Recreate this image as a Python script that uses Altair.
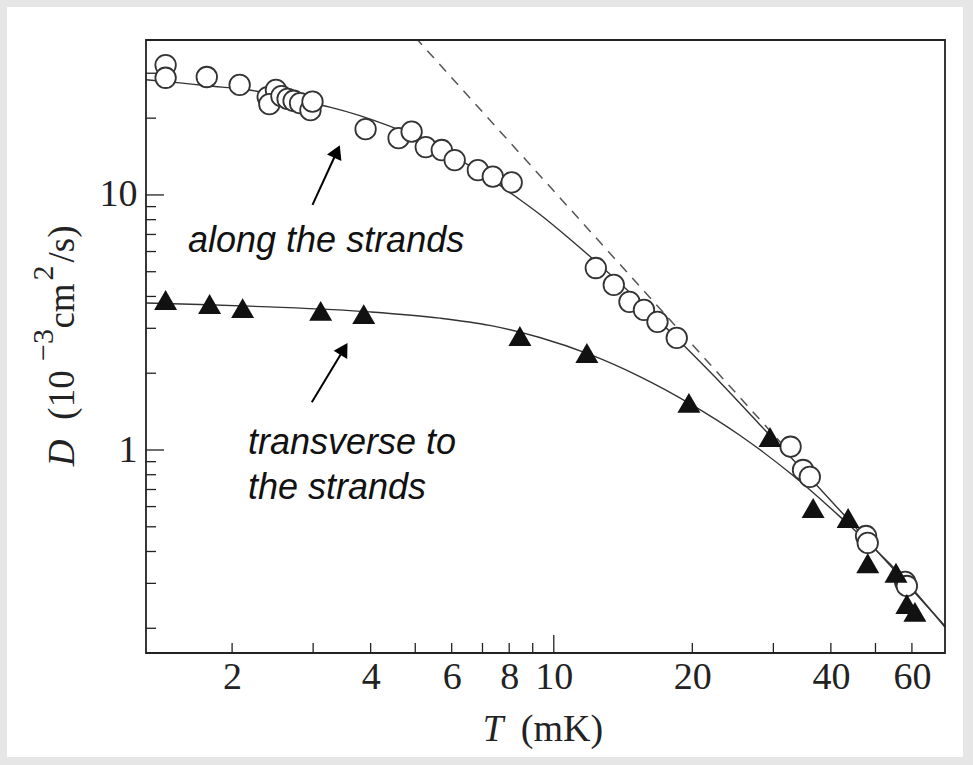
import altair as alt
import pandas as pd

# ---------------- data ----------------
# open circles: diffusion along the strands
circle_T = [1.434, 1.434, 1.762, 2.077, 2.39, 2.49, 2.41, 2.56, 2.64, 2.72, 2.81, 2.96, 2.99,
            3.90, 4.60, 4.91, 5.27, 5.71, 6.09, 6.84, 7.37, 8.10,
            12.34, 13.5, 14.6, 15.7, 16.8, 18.5,
            32.7, 34.8, 36.0, 47.7, 48.1, 58.0, 58.5]
circle_D = [32.3, 28.8, 29.0, 27.0, 24.2, 25.8, 22.7, 24.4, 23.8, 23.4, 22.9, 21.5, 23.2,
            18.1, 16.7, 17.7, 15.4, 15.0, 13.7, 12.5, 11.8, 11.2,
            5.17, 4.44, 3.81, 3.54, 3.18, 2.75,
            1.03, 0.835, 0.784, 0.460, 0.432, 0.304, 0.293]

# filled triangles: diffusion transverse to the strands
tri_T = [1.434, 1.787, 2.108, 3.115, 3.864, 8.44, 11.8, 19.66, 29.5, 36.6, 43.6, 48.1, 55.4, 58.5, 60.9]
tri_D = [3.875, 3.738, 3.60, 3.51, 3.41, 2.80, 2.40, 1.53, 1.124, 0.592, 0.541, 0.360, 0.330, 0.249, 0.232]

# solid fitted curves
along_T = [1.30, 1.54, 1.76, 2.18, 2.80, 3.26, 4.40, 5.65, 6.57, 7.37, 8.3, 9.32, 10.8, 12.6,
           15.4, 18.8, 23.0, 28.0, 34.3, 44.0, 56.5, 70.8]
along_D = [28.3, 27.5, 26.8, 25.8, 23.4, 22.1, 18.6, 15.2, 13.0, 11.4, 9.8, 8.4, 6.75, 5.3,
           3.8, 2.66, 1.84, 1.26, 0.855, 0.525, 0.32, 0.204]

trans_T = [1.30, 1.70, 2.41, 3.98, 5.65, 7.26, 9.32, 11.97, 15.38, 19.75, 25.4, 32.6,
           41.85, 53.8, 70.8]
trans_D = [3.77, 3.72, 3.64, 3.48, 3.29, 3.08, 2.76, 2.37, 1.94, 1.52, 1.14, 0.812,
           0.548, 0.357, 0.202]

# dashed high-temperature asymptote (end points)
asym_T = [5.0, 33.0]
asym_D = [41.5, 0.95]

# arrows (tail -> head) in data coordinates
arrow_tail_T = [2.99, 2.98]
arrow_tail_D = [9.14, 1.54]
arrow_head_T = [3.38, 3.50]
arrow_head_D = [14.8, 2.49]

# axis ticks / labels
x_label_values = [2, 4, 6, 8, 10, 20, 40, 60]
y_label_values = [1, 10]
x_minor_ticks = [2, 3, 4, 5, 6, 7, 8, 9, 20, 30, 40, 50, 60]
x_major_ticks = [10]
y_minor_ticks = [0.2, 0.3, 0.4, 0.5, 0.6, 0.7, 0.8, 0.9, 2, 3, 4, 5, 6, 7, 8, 9, 20, 30]
y_major_ticks = [1, 10]

# ---------------- chart ----------------
W, H = 799, 613
INK = "#222222"

xscale = alt.Scale(type="log", domain=[1.3, 70.8], nice=False)
yscale = alt.Scale(type="log", domain=[0.16, 40.5], nice=False)

x_axis = alt.Axis(values=x_label_values, title=None, ticks=False, tickSize=0, domain=False, grid=False,
                  labelFont="Liberation Serif", labelFontSize=38, labelColor=INK, labelPadding=5,
                  labelOverlap=False, labelFlush=False, format="~g", zindex=1)
y_axis = alt.Axis(values=y_label_values, title=None, ticks=False, tickSize=0, domain=False, grid=False,
                  labelFont="Liberation Serif", labelFontSize=38, labelColor=INK, labelPadding=9,
                  labelOverlap=False, labelFlush=False, format="~g", zindex=1)

one = pd.DataFrame({"a": [0]})

circles = pd.DataFrame({"T": circle_T, "D": circle_D})
tris = pd.DataFrame({"T": tri_T, "D": tri_D})
along = pd.DataFrame({"T": along_T, "D": along_D})
trans = pd.DataFrame({"T": trans_T, "D": trans_D})
asym = pd.DataFrame({"T": asym_T, "D": asym_D})
arrows = pd.DataFrame({"T": arrow_tail_T, "D": arrow_tail_D, "T1": arrow_head_T, "D1": arrow_head_D})


def X(f="T"):
    return alt.X(f"{f}:Q", scale=xscale, axis=x_axis)


def Y(f="D"):
    return alt.Y(f"{f}:Q", scale=yscale, axis=y_axis)


panel = alt.Chart(one).mark_rect(fill="white").encode(
    x=alt.value(-139), x2=alt.value(817), y=alt.value(-33), y2=alt.value(717))

frame = alt.Chart(one).mark_rect(fillOpacity=0, stroke=INK, strokeWidth=1.8).encode(
    x=alt.value(0), x2=alt.value(W), y=alt.value(0), y2=alt.value(H))

xt_minor = alt.Chart(pd.DataFrame({"T": x_minor_ticks})).mark_rule(color=INK, strokeWidth=1.3).encode(
    x=X(), y=alt.value(H), y2=alt.value(H - 10))
xt_major = alt.Chart(pd.DataFrame({"T": x_major_ticks})).mark_rule(color=INK, strokeWidth=1.3).encode(
    x=X(), y=alt.value(H), y2=alt.value(H - 18))
yt_minor = alt.Chart(pd.DataFrame({"D": y_minor_ticks})).mark_rule(color=INK, strokeWidth=1.3).encode(
    y=Y(), x=alt.value(0), x2=alt.value(10))
yt_major = alt.Chart(pd.DataFrame({"D": y_major_ticks})).mark_rule(color=INK, strokeWidth=1.3).encode(
    y=Y(), x=alt.value(0), x2=alt.value(18))

line_along = alt.Chart(along).mark_line(color="#333333", strokeWidth=1.4, interpolate="monotone").encode(
    x=X(), y=Y(), order="T:Q")
line_trans = alt.Chart(trans).mark_line(color="#333333", strokeWidth=1.4, interpolate="monotone").encode(
    x=X(), y=Y(), order="T:Q")
line_asym = alt.Chart(asym).mark_line(color="#555555", strokeWidth=1.5, strokeDash=[10, 8], clip=True).encode(
    x=X(), y=Y())

pts_circ = alt.Chart(circles).mark_point(shape="circle", filled=True, fill="white", stroke="#333333",
                                         strokeWidth=1.8, size=420, opacity=1).encode(x=X(), y=Y())
pts_tri = alt.Chart(tris).mark_point(shape="triangle-up", filled=True, fill="#111111",
                                     size=529, opacity=1).encode(x=X(), y=Y())

arrow_lines = alt.Chart(arrows).mark_rule(color="black", strokeWidth=2).encode(
    x=X("T"), y=Y("D"), x2="T1:Q", y2="D1:Q")
head1 = alt.Chart(arrows.iloc[[0]]).mark_point(shape="triangle-up", filled=True, color="black",
                                               size=250, angle=24, opacity=1).encode(x=X("T1"), y=Y("D1"))
head2 = alt.Chart(arrows.iloc[[1]]).mark_point(shape="triangle-up", filled=True, color="black",
                                               size=250, angle=31, opacity=1).encode(x=X("T1"), y=Y("D1"))


def label(text, x, y, size=36, style="normal", font="Liberation Serif", angle=0,
          align="center", baseline="middle", color=INK):
    return alt.Chart(one).mark_text(text=text, font=font, fontSize=size, fontStyle=style, angle=angle,
                                    align=align, baseline=baseline, color=color).encode(
        x=alt.value(x), y=alt.value(y))


ann = [
    label("along the strands", 42, 212, size=36, style="italic", font="Liberation Sans",
          align="left", baseline="alphabetic", color="#111111"),
    label("transverse to", 102, 414, size=36, style="italic", font="Liberation Sans",
          align="left", baseline="alphabetic", color="#111111"),
    label("the strands", 102, 459, size=36, style="italic", font="Liberation Sans",
          align="left", baseline="alphabetic", color="#111111"),
    # x-axis title
    label("T", 347, 690, size=37, style="italic"),
    label("(mK)", 416, 690, size=38),
    # y-axis title (rotated pieces)
    label("D", -83, 413, size=37, style="italic", angle=270),
    label("(10", -83, 355, size=37, angle=270),
    label("\u22123", -102, 305, size=30, angle=270),
    label("cm", -83, 266, size=37, angle=270),
    label("2", -102, 233, size=30, angle=270),
    label("/s)", -83, 204, size=37, angle=270),
]

chart = alt.layer(
    panel, xt_minor, xt_major, yt_minor, yt_major,
    line_along, line_trans, line_asym, pts_circ, pts_tri,
    arrow_lines, head1, head2, frame, *ann
).properties(
    width=W, height=H,
    padding={"left": 146, "top": 40, "right": 28, "bottom": 112},
    autosize=alt.AutoSizeParams(type="none"),
    background="#e6e6e6",
).configure_view(stroke=None)

chart.save("out.html", embed_options={"renderer": "svg", "actions": False})
